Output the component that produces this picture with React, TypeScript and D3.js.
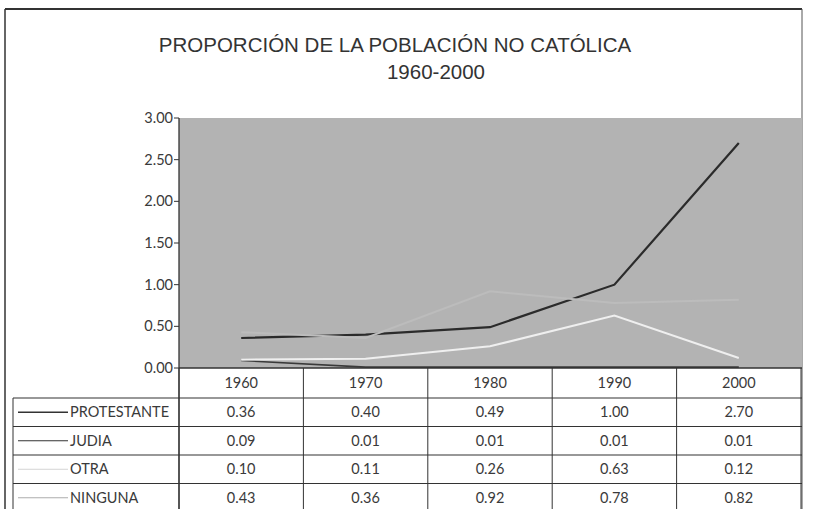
import React from 'react';
import * as d3 from 'd3';

const years = ['1960', '1970', '1980', '1990', '2000'];
const seriesNames = ['PROTESTANTE', 'JUDIA', 'OTRA', 'NINGUNA'];
const protestante = [0.36, 0.40, 0.49, 1.00, 2.70];
const judia = [0.09, 0.01, 0.01, 0.01, 0.01];
const otra = [0.10, 0.11, 0.26, 0.63, 0.12];
const ninguna = [0.43, 0.36, 0.92, 0.78, 0.82];
const yTicks = [0, 0.5, 1, 1.5, 2, 2.5, 3];

const W = 813;
const H = 509;
const plot = { left: 179, right: 802, top: 118, bottom: 368 };
const rowH = 28.5;
const headerBottom = 398;
const legendLeft = 13;

const lineStyles = [
  { stroke: '#2b2b2b', width: 2.2 },
  { stroke: '#3a3a3a', width: 1.6 },
  { stroke: '#efefef', width: 2 },
  { stroke: '#bcbcbc', width: 2 },
];

const tableFont = 'Lato, "Open Sans", sans-serif';
const textColor = '#3a3a3a';

const App: React.FC = () => {
  const x = d3.scaleBand<string>().domain(years).range([plot.left, plot.right - 1]);
  const y = d3.scaleLinear().domain([0, 3]).range([plot.bottom, plot.top]);
  const cx = (yr: string) => (x(yr) || 0) + x.bandwidth() / 2;
  const fmt = d3.format('.2f');

  const all = [protestante, judia, otra, ninguna];
  const line = d3.line<number>()
    .x((_, i) => cx(years[i]))
    .y(d => y(d));

  const colEdges = years.map(yr => x(yr) || 0).concat([plot.right - 1]);
  // draw order: ninguna sits above protestante, as in the scan
  const order = [1, 0, 3, 2];

  return (
    <svg width={W} height={H} style={{ position: 'absolute', left: 0, top: 0, background: '#fff' }}>
      {/* outer frame */}
      <line x1={5} x2={5} y1={9} y2={H} stroke="#333" strokeWidth={1.5} />
      <line x1={5} x2={plot.right} y1={9} y2={9} stroke="#333" strokeWidth={2} />
      <line x1={plot.right} x2={plot.right} y1={9} y2={H} stroke="#555" strokeWidth={1} />

      {/* title */}
      <text x={395} y={52} textAnchor="middle" fontFamily='"Liberation Sans", Arial, sans-serif' fontSize={20.5} fill="#333">
        PROPORCIÓN DE LA POBLACIÓN NO CATÓLICA
      </text>
      <text x={436} y={79} textAnchor="middle" fontFamily='"Liberation Sans", Arial, sans-serif' fontSize={20.5} fill="#333">
        1960-2000
      </text>

      {/* plot area */}
      <rect x={plot.left} y={plot.top} width={plot.right - plot.left} height={plot.bottom - plot.top} fill="#b3b3b3" />

      {/* y axis */}
      <line x1={plot.left} x2={plot.left} y1={plot.top} y2={H} stroke="#333" strokeWidth={1.3} />
      {yTicks.map(t => (
        <g key={t}>
          <line x1={plot.left - 5} x2={plot.left} y1={y(t)} y2={y(t)} stroke="#333" strokeWidth={1} />
          <text x={plot.left - 6} y={y(t)} dy="0.35em" textAnchor="end" fontFamily={tableFont} fontSize={14.5} fill={textColor}>
            {fmt(t)}
          </text>
        </g>
      ))}

      {/* series lines */}
      {order.map(i => (
        <path key={i} d={line(all[i]) || ''} fill="none" stroke={lineStyles[i].stroke} strokeWidth={lineStyles[i].width} />
      ))}

      {/* data table */}
      <line x1={plot.left} x2={plot.right} y1={plot.bottom} y2={plot.bottom} stroke="#333" strokeWidth={1.3} />
      {colEdges.map((e, i) => (
        <line key={i} x1={e} x2={e} y1={plot.bottom} y2={H} stroke="#333" strokeWidth={1} />
      ))}
      {years.map(yr => (
        <text key={yr} x={cx(yr)} y={(plot.bottom + headerBottom) / 2} dy="0.35em" textAnchor="middle" fontFamily={tableFont} fontSize={14.5} fill={textColor}>
          {yr}
        </text>
      ))}
      <line x1={legendLeft} x2={legendLeft} y1={headerBottom} y2={H} stroke="#333" strokeWidth={1} />
      {seriesNames.map((name, r) => {
        const top = headerBottom + r * rowH;
        const mid = top + rowH / 2;
        return (
          <g key={name}>
            <line x1={legendLeft} x2={plot.right} y1={top} y2={top} stroke="#333" strokeWidth={1.2} />
            <line x1={18} x2={68} y1={mid} y2={mid} stroke={r === 2 ? '#d4d4d4' : r === 3 ? '#acacac' : '#333'} strokeWidth={r === 0 ? 1.5 : 1} />
            <text x={70} y={mid} dy="0.35em" fontFamily={tableFont} fontSize={14.5} fill={textColor}>{name}</text>
            {all[r].map((v, i) => (
              <text key={i} x={cx(years[i])} y={mid} dy="0.35em" textAnchor="middle" fontFamily={tableFont} fontSize={14.5} fill={textColor}>
                {fmt(v)}
              </text>
            ))}
          </g>
        );
      })}
    </svg>
  );
};

export default App;
